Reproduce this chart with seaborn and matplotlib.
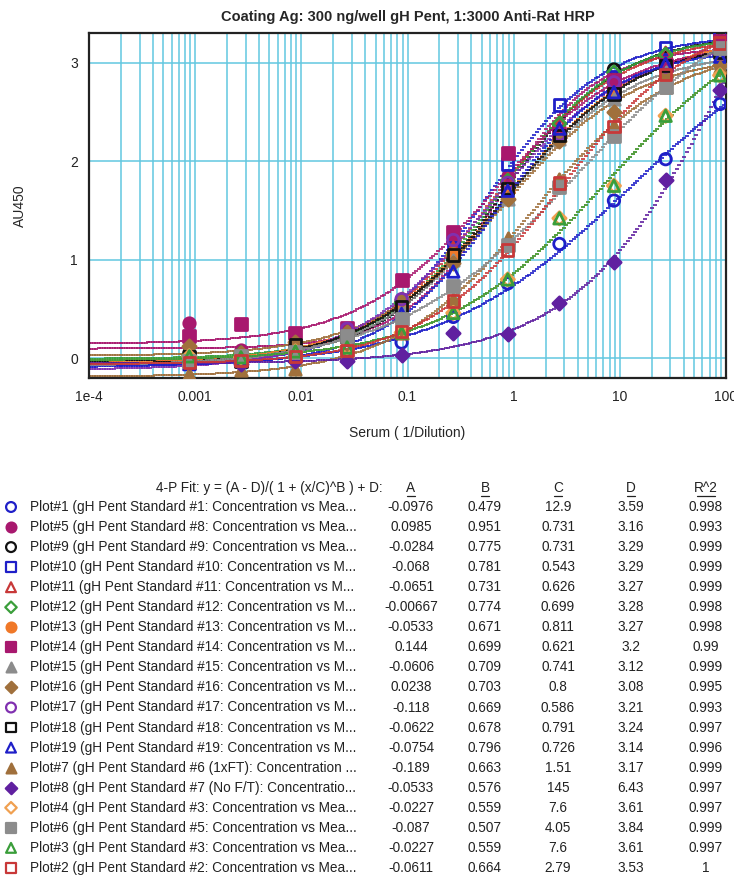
import numpy as np
import matplotlib
matplotlib.use("Agg")
import matplotlib.pyplot as plt
import seaborn as sns
from matplotlib.ticker import LogLocator, MultipleLocator

# serum concentration (1/dilution) of the standard points
conc = [0.00088, 0.0027, 0.0088, 0.027, 0.088, 0.27, 0.88, 2.7, 8.8, 27, 88]

plot1 = [-0.05, -0.03, 0.02, 0.07, 0.16, 0.42, 0.76, 1.16, 1.60, 2.02, 2.58]
plot5 = [0.36, 0.08, 0.13, 0.24, 0.58, 1.18, 1.85, 2.30, 2.70, 3.02, 3.18]
plot9 = [0.05, 0.0, 0.12, 0.20, 0.58, 1.00, 1.78, 2.30, 2.93, 3.05, 3.22]
plot10 = [-0.05, -0.02, 0.07, 0.22, 0.56, 1.12, 1.97, 2.57, 2.86, 3.15, 3.30]
plot11 = [-0.03, -0.01, 0.08, 0.22, 0.57, 1.12, 1.82, 2.40, 2.80, 3.10, 3.17]
plot12 = [0.03, 0.05, 0.09, 0.22, 0.56, 1.05, 1.80, 2.38, 2.90, 3.08, 3.21]
plot13 = [-0.02, 0.03, 0.08, 0.26, 0.52, 1.06, 1.70, 2.22, 2.72, 2.98, 3.14]
plot14 = [0.23, 0.35, 0.26, 0.31, 0.79, 1.28, 2.08, 2.28, 2.82, 2.98, 3.22]
plot15 = [-0.04, 0.01, 0.08, 0.22, 0.50, 1.00, 1.62, 2.22, 2.63, 2.90, 3.01]
plot16 = [0.12, 0.05, 0.17, 0.27, 0.60, 0.97, 1.62, 2.20, 2.50, 2.86, 2.98]
plot17 = [-0.06, -0.05, 0.05, 0.30, 0.60, 1.20, 1.78, 2.27, 2.80, 2.96, 3.09]
plot18 = [0.02, -0.03, 0.14, 0.22, 0.52, 1.05, 1.72, 2.26, 2.68, 2.97, 3.10]
plot19 = [-0.06, -0.02, 0.03, 0.12, 0.45, 0.88, 1.70, 2.33, 2.70, 2.99, 3.06]
plot7 = [-0.16, -0.12, -0.11, 0.04, 0.26, 0.60, 1.22, 1.82, 2.36, 2.75, 2.95]
plot8 = [-0.04, -0.06, -0.03, -0.03, 0.03, 0.26, 0.25, 0.56, 0.98, 1.81, 2.72]
plot4 = [0.02, 0.01, 0.07, 0.11, 0.26, 0.46, 0.80, 1.42, 1.75, 2.46, 2.87]
plot6 = [-0.03, 0.02, 0.06, 0.23, 0.40, 0.73, 1.15, 1.74, 2.25, 2.75, 3.15]
plot3 = [0.02, 0.01, 0.07, 0.11, 0.26, 0.46, 0.80, 1.42, 1.75, 2.46, 2.87]
plot2 = [-0.04, -0.02, 0.02, 0.08, 0.27, 0.58, 1.10, 1.78, 2.35, 2.88, 3.20]

plot_names = [
    "Plot#1 (gH Pent Standard #1: Concentration vs Mea...",
    "Plot#5 (gH Pent Standard #8: Concentration vs Mea...",
    "Plot#9 (gH Pent Standard #9: Concentration vs Mea...",
    "Plot#10 (gH Pent Standard #10: Concentration vs M...",
    "Plot#11 (gH Pent Standard #11: Concentration vs M...",
    "Plot#12 (gH Pent Standard #12: Concentration vs M...",
    "Plot#13 (gH Pent Standard #13: Concentration vs M...",
    "Plot#14 (gH Pent Standard #14: Concentration vs M...",
    "Plot#15 (gH Pent Standard #15: Concentration vs M...",
    "Plot#16 (gH Pent Standard #16: Concentration vs M...",
    "Plot#17 (gH Pent Standard #17: Concentration vs M...",
    "Plot#18 (gH Pent Standard #18: Concentration vs M...",
    "Plot#19 (gH Pent Standard #19: Concentration vs M...",
    "Plot#7 (gH Pent Standard #6 (1xFT): Concentration ...",
    "Plot#8 (gH Pent Standard #7 (No F/T): Concentratio...",
    "Plot#4 (gH Pent Standard #3: Concentration vs Mea...",
    "Plot#6 (gH Pent Standard #5: Concentration vs Mea...",
    "Plot#3 (gH Pent Standard #3: Concentration vs Mea...",
    "Plot#2 (gH Pent Standard #2: Concentration vs Mea...",
]
plot_data = [plot1, plot5, plot9, plot10, plot11, plot12, plot13, plot14, plot15,
             plot16, plot17, plot18, plot19, plot7, plot8, plot4, plot6, plot3, plot2]

# 4-P fit parameters
fit_A = [-0.0976, 0.0985, -0.0284, -0.068, -0.0651, -0.00667, -0.0533, 0.144, -0.0606,
         0.0238, -0.118, -0.0622, -0.0754, -0.189, -0.0533, -0.0227, -0.087, -0.0227, -0.0611]
fit_B = [0.479, 0.951, 0.775, 0.781, 0.731, 0.774, 0.671, 0.699, 0.709,
         0.703, 0.669, 0.678, 0.796, 0.663, 0.576, 0.559, 0.507, 0.559, 0.664]
fit_C = [12.9, 0.731, 0.731, 0.543, 0.626, 0.699, 0.811, 0.621, 0.741,
         0.8, 0.586, 0.791, 0.726, 1.51, 145, 7.6, 4.05, 7.6, 2.79]
fit_D = [3.59, 3.16, 3.29, 3.29, 3.27, 3.28, 3.27, 3.2, 3.12,
         3.08, 3.21, 3.24, 3.14, 3.17, 6.43, 3.61, 3.84, 3.61, 3.53]
fit_R2 = [0.998, 0.993, 0.999, 0.999, 0.999, 0.998, 0.998, 0.99, 0.999,
          0.995, 0.993, 0.997, 0.996, 0.999, 0.997, 0.997, 0.999, 0.997, 1]

x_ticks = [1e-4, 1e-3, 1e-2, 1e-1, 1, 10, 100]
x_tick_labels = ["1e-4", "0.001", "0.01", "0.1", "1", "10", "100"]

# styles
colors = ["#1f1fc8", "#a8186e", "#111111", "#1f1fc8", "#c83838", "#3a9e3a", "#f07828",
          "#a8186e", "#8c8c8c", "#a0703c", "#8030b0", "#111111", "#1f1fc8", "#a0703c",
          "#6020a0", "#f0a050", "#8c8c8c", "#3a9e3a", "#c83838"]
markers = ["o", "o", "o", "s", "^", "D", "o", "s", "^", "D", "o", "s", "^", "^", "D", "D", "s", "^", "s"]
filled = [False, True, False, False, False, False, True, True, True, True, False, False,
          False, True, True, False, True, False, False]


def four_pl(x, a, b, c, d):
    return (a - d) / (1 + (x / c) ** b) + d


sns.set_style("white")
plt.rcParams["font.family"] = ["Liberation Sans", "DejaVu Sans"]

W, H = 734, 880
fig = plt.figure(figsize=(W / 100, H / 100), dpi=100)

# table area uses pixel coordinates
ax_t = fig.add_axes([0, 0, 1, 1])
ax_t.set_xlim(0, W)
ax_t.set_ylim(H, 0)
ax_t.axis("off")

ax = fig.add_axes([89 / W, 1 - 378 / H, 637 / W, 345 / H])
grid_c = "#62c8e0"

ax.set_xscale("log")
ax.set_xlim(1e-4, 100)
ax.set_ylim(-0.2, 3.3)
ax.set_xticks(x_ticks)
ax.set_xticklabels(x_tick_labels)
ax.xaxis.set_minor_locator(LogLocator(base=10, subs=np.arange(2, 10), numticks=100))
ax.set_yticks([0, 1, 2, 3])
ax.yaxis.set_minor_locator(MultipleLocator(0.2))
ax.grid(True, which="both", axis="x", color=grid_c, lw=1.1)
ax.grid(True, which="major", axis="y", color=grid_c, lw=1.1)
ax.set_axisbelow(True)

for s in ax.spines.values():
    s.set_color("#222222")
    s.set_linewidth(1.6)

ax.tick_params(axis="x", which="major", direction="inout", length=7, width=1.2, labelsize=10, pad=5)
ax.tick_params(axis="x", which="minor", direction="in", length=4, width=1.0)
ax.tick_params(axis="y", which="major", direction="out", length=6, width=1.2, labelsize=10, pad=2)
ax.tick_params(axis="y", which="minor", direction="out", length=3, width=1.0)
ax.tick_params(colors="#222222")

# fitted curves: short horizontal dashes at each sample, so flat parts
# look solid and steep parts look dotted as in the original software
xs = np.logspace(-4, 2, 260)
for i in range(len(plot_data)):
    ys = four_pl(xs, fit_A[i], fit_B[i], fit_C[i], fit_D[i])
    ax.plot(xs, ys, ls="none", marker="_", ms=2.6, mew=1.2, color=colors[i], zorder=2)

# measured points
for i in range(len(plot_data)):
    size = 46 if markers[i] == "D" else 68
    fc = colors[i] if filled[i] else "none"
    sns.scatterplot(x=conc, y=plot_data[i], marker=markers[i], s=size, color=colors[i],
                    facecolor=fc, edgecolor=colors[i], linewidth=2.0, ax=ax, zorder=3)

ax.set_title("Coating Ag: 300 ng/well gH Pent, 1:3000 Anti-Rat HRP",
             fontsize=10.5, fontweight="bold", pad=9)
ax.set_xlabel("Serum ( 1/Dilution)", fontsize=10)
ax.set_ylabel("AU450", fontsize=10)
ax.xaxis.set_label_coords(0.5, -0.14)
ax.yaxis.set_label_coords(-0.097, 0.5)

# fit results table
col_x = [411, 485, 558, 631, 706]
head_y = 488
ax_t.text(383, head_y, "4-P Fit: y = (A - D)/( 1 + (x/C)^B ) + D:", ha="right", va="center",
          fontsize=9.8, color="#222222")
for cx, lab in zip(col_x, ["A", "B", "C", "D", "R^2"]):
    ax_t.text(cx, head_y, lab, ha="center", va="center", fontsize=9.8, color="#222222")
    half = 4 if lab != "R^2" else 9
    ax_t.plot([cx - half, cx + half], [head_y + 8, head_y + 8], color="#222222", lw=0.9)

for i in range(len(plot_names)):
    ry = 507 + i * 20.05
    size = 34 if markers[i] == "D" else 50
    fc = colors[i] if filled[i] else "none"
    ax_t.scatter([11], [ry], marker=markers[i], s=size, facecolor=fc, edgecolor=colors[i],
                 linewidth=1.6)
    ax_t.text(30, ry, plot_names[i], ha="left", va="center", fontsize=9.8, color="#222222")
    vals = [fit_A[i], fit_B[i], fit_C[i], fit_D[i], fit_R2[i]]
    for cx, v in zip(col_x, vals):
        ax_t.text(cx, ry, f"{v:g}", ha="center", va="center", fontsize=9.8, color="#222222")

fig.savefig("out.png", dpi=100)
